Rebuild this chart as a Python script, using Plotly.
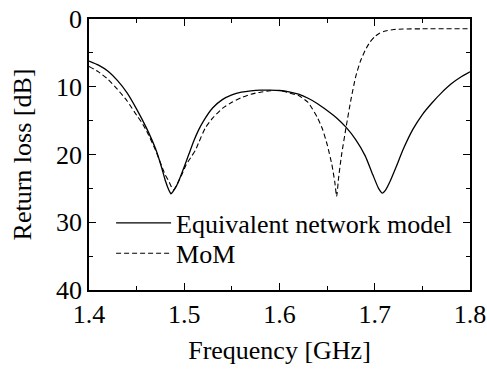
import plotly.graph_objects as go

# Equivalent network model (solid)
f_eq = [1.400, 1.410, 1.420, 1.430, 1.440, 1.450, 1.460, 1.470, 1.476, 1.480,
        1.484, 1.486, 1.488, 1.492, 1.496, 1.500, 1.505, 1.510, 1.515, 1.520,
        1.530, 1.540, 1.550, 1.560, 1.570, 1.580, 1.590, 1.600, 1.610, 1.620,
        1.630, 1.640, 1.650, 1.660, 1.670, 1.680, 1.690, 1.698, 1.704, 1.708,
        1.712, 1.716, 1.722, 1.730, 1.740, 1.750, 1.760, 1.770, 1.780, 1.790,
        1.800]
rl_eq = [6.2, 6.8, 7.7, 9.1, 10.9, 13.3, 16.0, 19.2, 21.8, 23.8,
         25.3, 25.8, 25.5, 24.6, 23.3, 21.8, 19.9, 18.0, 16.4, 15.1,
         13.1, 11.9, 11.2, 10.8, 10.6, 10.5, 10.5, 10.55, 10.75, 11.1,
         11.7, 12.5, 13.5, 14.6, 16.0, 17.8, 20.2, 23.0, 25.0, 25.7,
         25.1, 24.0, 22.0, 19.2, 16.3, 14.1, 12.4, 10.9, 9.6, 8.6,
         7.8]

# MoM (dashed)
f_mom = [1.400, 1.410, 1.420, 1.430, 1.440, 1.450, 1.455, 1.460, 1.470, 1.476,
         1.480, 1.484, 1.487, 1.489, 1.491, 1.494, 1.498, 1.502, 1.508, 1.512,
         1.515, 1.522, 1.530, 1.540, 1.550, 1.560, 1.570, 1.580, 1.590, 1.600,
         1.610, 1.620, 1.630, 1.640, 1.645, 1.650, 1.655, 1.658, 1.660, 1.662,
         1.665, 1.670, 1.675, 1.680, 1.685, 1.690, 1.695, 1.700, 1.705, 1.710,
         1.720, 1.730, 1.750, 1.800]
rl_mom = [7.0, 7.8, 8.9, 10.4, 12.1, 14.2, 15.2, 16.4, 19.4, 21.6,
          23.0, 24.0, 24.9, 25.2, 24.8, 24.0, 22.8, 21.5, 20.2, 19.3,
          18.3, 16.1, 14.6, 13.2, 12.3, 11.6, 11.1, 10.8, 10.6, 10.55,
          10.9, 11.3, 12.3, 14.6, 16.2, 18.5, 21.5, 24.0, 26.2, 23.5,
          20.2, 15.9, 11.9, 8.5, 6.2, 4.6, 3.4, 2.6, 2.1, 1.8,
          1.55, 1.48, 1.45, 1.45]

x_ticks = [1.4, 1.5, 1.6, 1.7, 1.8]
y_ticks = [0, 10, 20, 30, 40]

FONT = "Liberation Serif"

fig = go.Figure()
fig.add_trace(go.Scatter(x=f_eq, y=rl_eq, mode="lines",
                         name="Equivalent network model", legend="legend",
                         line=dict(color="black", width=1.3, shape="spline", smoothing=0.5)))
fig.add_trace(go.Scatter(x=f_mom, y=rl_mom, mode="lines", name="MoM", legend="legend2",
                         line=dict(color="black", width=1.1, dash="5px,3px",
                                   shape="spline", smoothing=0.5)))

axis_common = dict(showline=True, linecolor="black", linewidth=1.5, mirror="allticks",
                   ticks="inside", ticklen=7, tickwidth=1, tickcolor="black",
                   showgrid=False, zeroline=False, automargin=False,
                   tickfont=dict(family=FONT, size=26, color="black"))

fig.update_xaxes(range=[1.4, 1.8], tickvals=x_ticks,
                 ticktext=[f"{v:.1f}" for v in x_ticks],
                 minor=dict(ticks="inside", ticklen=4, dtick=0.05, tickcolor="black"),
                 title=dict(text="Frequency [GHz]", font=dict(family=FONT, size=26, color="black"),
                            standoff=13),
                 **axis_common)
fig.update_yaxes(range=[40, 0], tickvals=y_ticks,
                 ticktext=[str(v) for v in y_ticks],
                 minor=dict(ticks="inside", ticklen=4, dtick=5, tickcolor="black"),
                 title=dict(text="Return loss [dB]", font=dict(family=FONT, size=26, color="black"),
                            standoff=17),
                 **axis_common)

leg_common = dict(xanchor="left", yanchor="middle", bgcolor="rgba(0,0,0,0)", borderwidth=0,
                  font=dict(family=FONT, size=26, color="black"), itemwidth=55)

fig.update_layout(
    width=487, height=371,
    margin=dict(l=89, r=17, t=19, b=81, autoexpand=False),
    paper_bgcolor="white", plot_bgcolor="white",
    font=dict(family=FONT, size=26, color="black"),
    showlegend=True,
    legend=dict(x=0.058, y=0.247, **leg_common),
    legend2=dict(x=0.058, y=0.135, **leg_common),
)

fig.write_html("out.html")
